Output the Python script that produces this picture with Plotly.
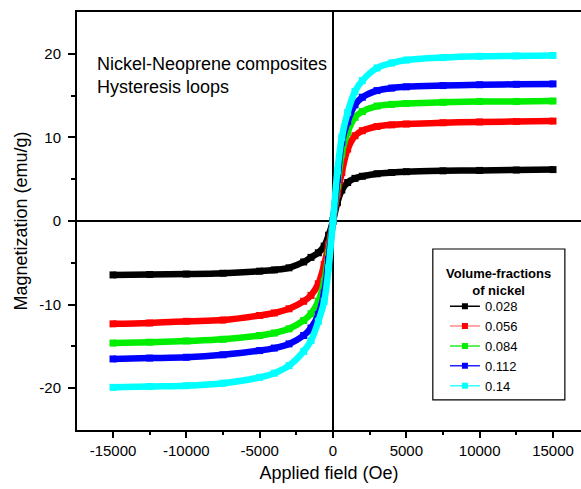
import plotly.graph_objects as go

# Applied field (Oe)
field = [-15000, -12500, -10000, -7500, -5000, -4000, -3000, -2000, -1500, -1000, -600, -300,
         0, 300, 600, 1000, 1500, 2000, 3000, 4000, 5000, 7500, 10000, 12500, 15000]

# Magnetization (emu/g) per nickel volume fraction
m_0028 = [-6.45, -6.4, -6.35, -6.25, -6.0, -5.85, -5.6, -4.9, -4.35, -3.8, -3.0, -1.7,
          0.0, 2.2, 3.7, 4.6, 5.1, 5.35, 5.65, 5.8, 5.9, 6.0, 6.05, 6.1, 6.15]
m_0056 = [-12.3, -12.2, -12.0, -11.85, -11.3, -11.0, -10.5, -9.6, -8.9, -7.5, -5.2, -2.8,
          0.0, 3.2, 5.8, 8.6, 10.2, 10.8, 11.3, 11.5, 11.6, 11.75, 11.85, 11.9, 11.95]
m_0084 = [-14.6, -14.5, -14.35, -14.15, -13.7, -13.4, -12.9, -11.9, -11.1, -9.6, -7.2, -3.8,
          0.0, 4.2, 8.0, 10.6, 12.4, 13.1, 13.75, 13.95, 14.05, 14.2, 14.3, 14.3, 14.35]
m_0112 = [-16.5, -16.4, -16.3, -16.0, -15.5, -15.2, -14.7, -13.7, -12.8, -11.2, -8.6, -4.6,
          0.0, 5.0, 9.4, 11.9, 13.9, 14.8, 15.6, 15.9, 16.05, 16.2, 16.3, 16.35, 16.4]
m_014 = [-19.9, -19.8, -19.7, -19.4, -18.7, -18.2, -17.3, -15.6, -14.3, -12.0, -9.6, -5.6,
         0.0, 6.0, 10.0, 13.0, 15.5, 16.8, 18.3, 18.9, 19.25, 19.55, 19.7, 19.75, 19.8]

series_names = ["0.028", "0.056", "0.084", "0.112", "0.14"]
series_vals = [m_0028, m_0056, m_0084, m_0112, m_014]
colors = ["#000000", "#ff0000", "#00ee00", "#0000ff", "#00ffff"]
legend_line_colors = ["#000000", "#ff8a8a", "#22ee22", "#2222ff", "#33ffff"]

x_ticks = [-15000, -10000, -5000, 0, 5000, 10000, 15000]
x_ticktext = ["-15000", "-10000", "-5000", "0", "5000", "10000", "15000"]
x_minor = [-12500, -7500, -2500, 2500, 7500, 12500]
y_ticks = [-20, -10, 0, 10, 20]
y_ticktext = ["-20", "-10", "0", "10", "20"]
y_minor = [-15, -5, 5, 15]

FONT = "Liberation Sans, Arial, sans-serif"

fig = go.Figure()
for name, vals, c in zip(series_names, series_vals, colors):
    fig.add_trace(go.Scatter(
        x=field, y=vals, mode="lines+markers", name=name, showlegend=False,
        line=dict(color=c, width=6.5, shape="spline"),
        marker=dict(symbol="square", size=7, color=c),
        hoverinfo="x+y"))

for name, c, lc in zip(series_names, colors, legend_line_colors):
    fig.add_trace(go.Scatter(
        x=[None], y=[None], mode="lines+markers", name=name, showlegend=True,
        line=dict(color=lc, width=1.5),
        marker=dict(symbol="square", size=6, color=c)))

axis_common = dict(
    showline=True, linecolor="black", linewidth=2, automargin=False,
    ticks="outside", tickwidth=1.5, tickcolor="black",
    showgrid=False, zeroline=True, zerolinecolor="black", zerolinewidth=1.5,
    tickfont=dict(family=FONT, size=15, color="black"),
)

fig.update_layout(
    width=581, height=489,
    margin=dict(l=77, r=0, t=12, b=59),
    paper_bgcolor="white", plot_bgcolor="white",
    font=dict(family=FONT, color="black"),
    xaxis=dict(range=[-17455, 16910], tickmode="array", tickvals=x_ticks, ticktext=x_ticktext,
               mirror=True, ticklen=6,
               minor=dict(tickmode="array", tickvals=x_minor, ticks="outside", ticklen=3,
                          tickwidth=1.5, tickcolor="black"),
               title=dict(text="Applied field (Oe)", font=dict(family=FONT, size=18), standoff=8),
               **axis_common),
    yaxis=dict(range=[-25, 25], tickmode="array", tickvals=y_ticks, ticktext=y_ticktext,
               ticklen=7, ticklabelstandoff=4,
               minor=dict(tickmode="array", tickvals=y_minor, ticks="outside", ticklen=4,
                          tickwidth=1.5, tickcolor="black"),
               title=dict(text="Magnetization (emu/g)", font=dict(family=FONT, size=18), standoff=7),
               **axis_common),
    legend=dict(
        x=0.73, y=0.332, xanchor="left", yanchor="top",
        bgcolor="rgba(255,255,255,0)", borderwidth=0,
        font=dict(family=FONT, size=13, color="black"),
        tracegroupgap=0, itemwidth=30,
    ),
    shapes=[dict(type="rect", xref="paper", yref="paper", x0=0.706, x1=0.968, y0=0.072, y1=0.433,
                 line=dict(color="black", width=1.2), fillcolor="white", layer="below")],
    annotations=[
        dict(text="Nickel-Neoprene composites<br>Hysteresis loops",
             xref="paper", yref="paper", x=0.036, y=0.905, xanchor="left", yanchor="top",
             align="left", showarrow=False, font=dict(family=FONT, size=18, color="black")),
        dict(text="<b>Volume-fractions</b><br><b>of nickel</b>",
             xref="paper", yref="paper", x=0.8373, y=0.396, xanchor="center", yanchor="top",
             align="center", showarrow=False, font=dict(family=FONT, size=13, color="black")),
    ],
)

fig.write_html("out.html", config={"displayModeBar": False},
               post_script="document.body.style.margin='0';document.body.style.padding='0';")
